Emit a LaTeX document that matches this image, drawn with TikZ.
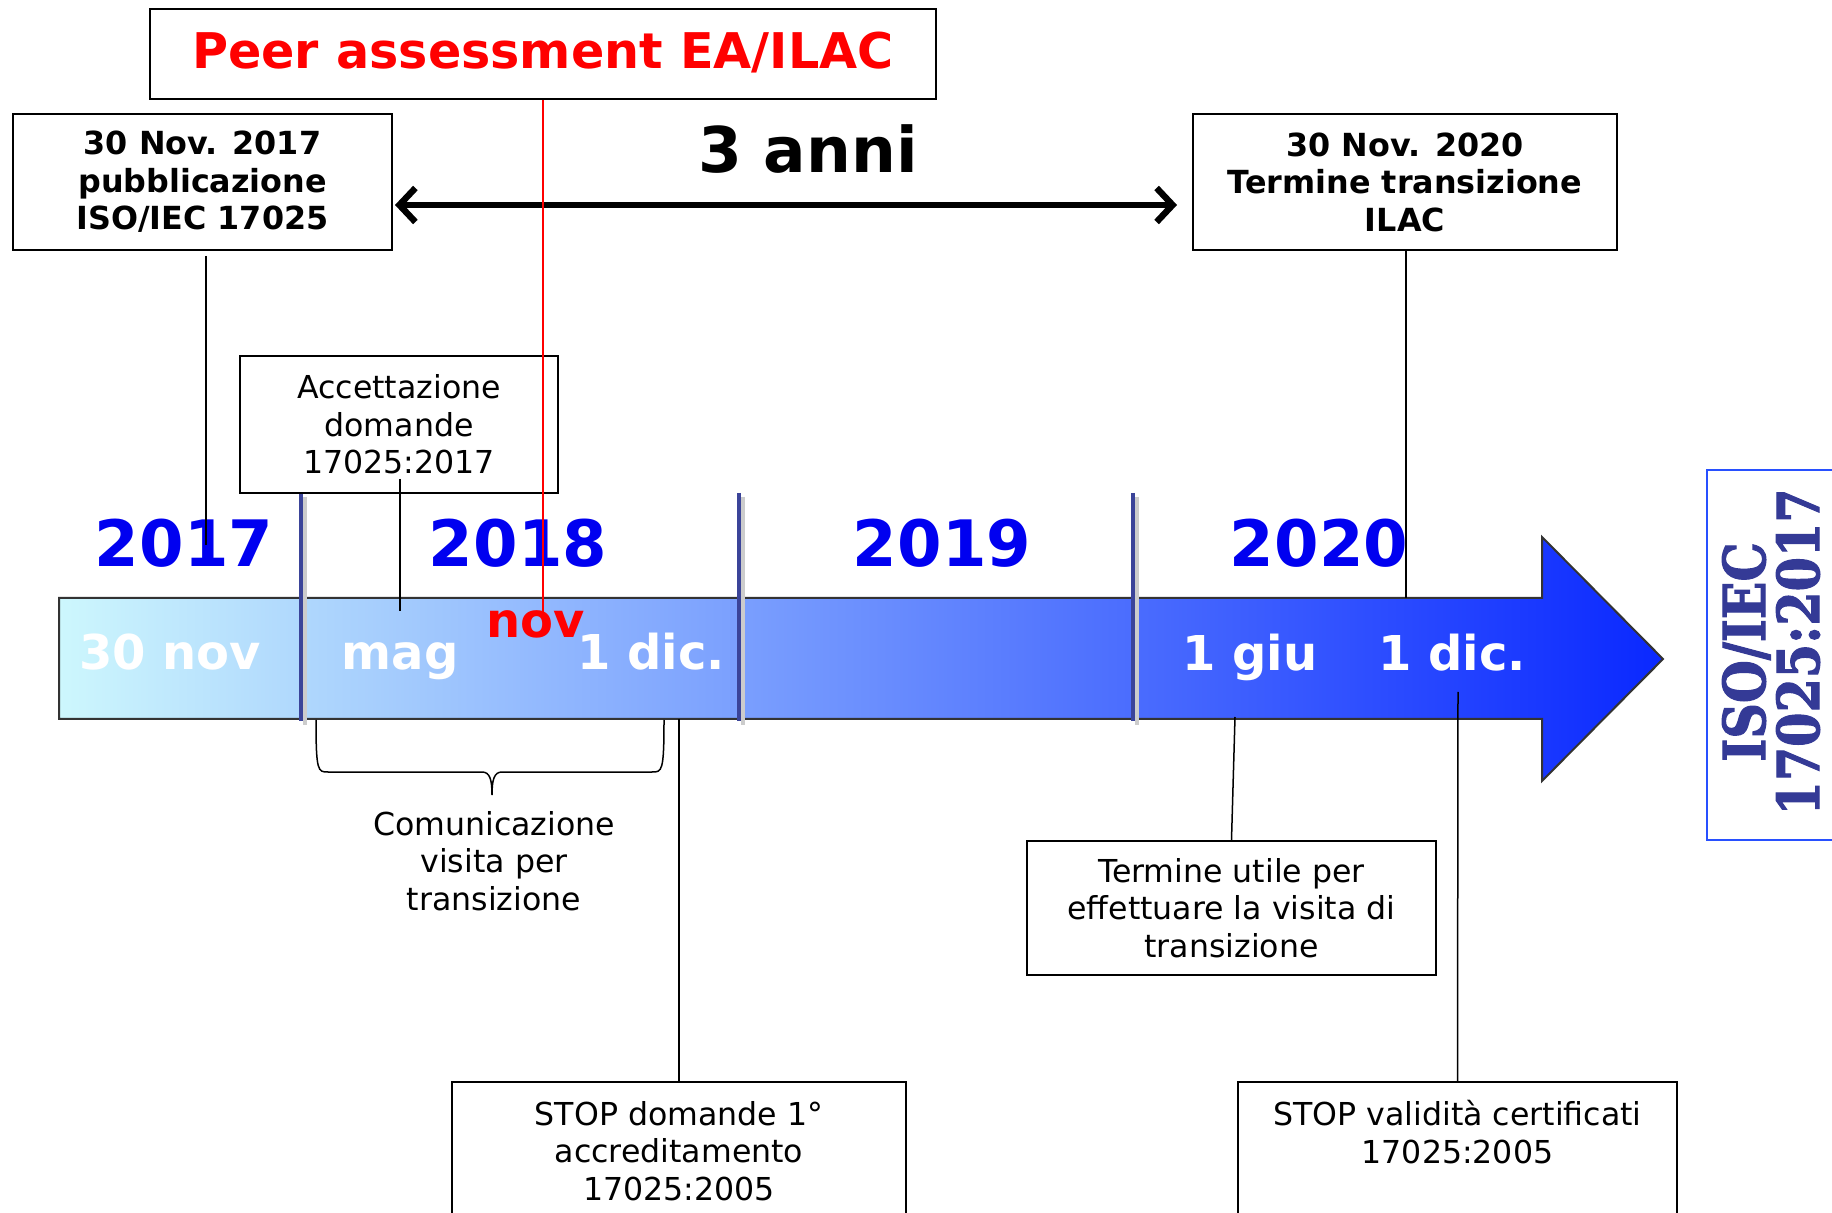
\documentclass[tikz,border=0pt]{standalone}
\usepackage{fontspec}
\setmainfont{DejaVu Sans}
\newfontfamily\isofont{DejaVu Serif}[BoldFeatures={FakeBold=2}]
\usetikzlibrary{arrows.meta}
\definecolor{yearblue}{RGB}{0,0,240}
\definecolor{sepblue}{RGB}{59,68,153}
\definecolor{barA}{RGB}{205,247,253}
\definecolor{barB}{RGB}{140,170,255}
\definecolor{barC}{RGB}{10,40,255}
\definecolor{isoblue}{RGB}{52,58,150}
\definecolor{isoframe}{RGB}{40,80,255}
\definecolor{peerred}{RGB}{255,0,0}
\tikzset{
  box/.style={draw=black, line width=1pt, inner sep=0pt, align=center, fill=white},
  bt/.style={font=\bfseries\fontsize{15.9}{18.75}\selectfont},
  rt/.style={font=\fontsize{15.8}{18.75}\selectfont},
  conn/.style={draw=black, line width=0.75pt},
  sepline/.style={draw=sepblue, line width=2pt},
  sepshadow/.style={draw=black!20, line width=2pt},
  year/.style={font=\bfseries\fontsize{32}{38}\selectfont, text=yearblue, anchor=base, inner sep=0pt},
  barlbl/.style={font=\bfseries\fontsize{24}{28}\selectfont, text=white, anchor=base, inner sep=0pt}
}
\begin{document}
\begin{tikzpicture}[x=0.5pt,y=-0.5pt]
\useasboundingbox (0,0) rectangle (1832,1213);
\clip (0,0) rectangle (1832,1213);
\fill[white] (0,0) rectangle (1832,1213);

% timeline arrow
\path[draw=black!80, line width=1pt, left color=barA, middle color=barB, right color=barC]
  (59,598) -- (1542,598) -- (1542,537) -- (1663,659) -- (1542,781) -- (1542,719) -- (59,719) -- cycle;

% year separators
\foreach \sx in {301,739,1133}{
  \draw[sepshadow] (\sx+4,497) -- (\sx+4,725);
  \draw[sepline] (\sx,493) -- (\sx,721);
}

% years
\node[year] (y2017) at (184,567) {2017};
\node[year] (y2018) at (518,567) {2018};
\node[year] (y2019) at (942,567) {2019};
\node[year] (y2020) at (1319,567) {2020};

% labels on the bar
\node[barlbl] (l30nov) at (170,670) {30 nov};
\node[barlbl] (lmag) at (400,670) {mag};
\node[barlbl, text=peerred] (lnov) at (536,638) {nov};
\node[barlbl] (ldicA) at (651,670) {1 dic.};
\node[barlbl] (lgiu) at (1250,671) {1 giu};
\node[barlbl] (ldicB) at (1452,671) {1 dic.};

% boxes
\node[box, font=\bfseries\fontsize{24.6}{28}\selectfont, text=peerred, minimum width=393pt, minimum height=45pt] (peer) at (543,54) {\raisebox{3.5pt}{Peer assessment EA/ILAC}};
\node[box, bt, minimum width=189.5pt, minimum height=68pt] (pub) at (202.5,182) {30 Nov. 2017\\pubblicazione\\ISO/IEC 17025};
\node[box, bt, minimum width=212pt, minimum height=68pt] (ilac) at (1405,182) {30 Nov. 2020\\Termine transizione\\ILAC};
\node[box, rt, minimum width=159pt, minimum height=68.5pt] (acc) at (399,424.5) {Accettazione\\domande\\17025:2017};
\node[box, rt, minimum width=204.5pt, minimum height=67pt] (term) at (1231.5,908) {Termine utile per\\effettuare la visita di\\transizione};
\node[box, minimum width=227pt, minimum height=68pt] (stopA) at (679,1150) {};
\node[rt, anchor=north, inner sep=0pt, align=center] (stopAt) at (679,1101) {STOP domande 1°\\accreditamento\\17025:2005};
\node[box, minimum width=219.5pt, minimum height=68pt] (stopB) at (1457.5,1150) {};
\node[rt, anchor=north, inner sep=0pt, align=center] (stopBt) at (1457.5,1100) {STOP validità certificati\\17025:2005};

% 3 anni
\node[font=\bfseries\fontsize{31.5}{36}\selectfont, anchor=base, inner sep=0pt] (anni) at (808,173) {3 anni};
\draw[line width=3.2pt, {Straight Barb[length=8pt,width=17pt]}-{Straight Barb[length=8pt,width=17pt]}]
  ([xshift=1pt,yshift=-11.5pt]pub.east) -- ([xshift=-7.5pt,yshift=-11.5pt]ilac.west);

% connectors
\coordinate (pubEnd) at (206,545);
\draw[conn] (pubEnd |- pub.south) ++(0,5) -- (pubEnd);
\coordinate (ilacEnd) at (1406,598);
\draw[conn] (ilacEnd |- ilac.south) -- (ilacEnd);
\coordinate (magEnd) at (400,611);
\draw[conn] (magEnd |- acc.south) ++(0,-15) -- (magEnd);
\coordinate (novEnd) at (543,613);
\draw[draw=peerred, line width=0.75pt] (peer.south) -- (novEnd);
\coordinate (dicA) at (679,719);
\draw[conn] (dicA) -- (stopA.north);
\coordinate (giu) at (1235,717);
\draw[conn] (giu) -- (term.north);
\coordinate (dicB) at (1458,692);
\draw[conn] (dicB) -- (stopB.north);

% brace
\draw[line width=0.75pt] (316,720) .. controls (316,772) and (318,772) .. (328,772) -- (482,772)
  .. controls (490,772) and (492,780) .. (492,795)
  .. controls (492,780) and (494,772) .. (502,772) -- (652,772)
  .. controls (662,772) and (664,772) .. (664,720);
\node[rt, anchor=north, inner sep=0pt, align=center] (comm) at (494,811) {Comunicazione\\visita per\\transizione};

% ISO/IEC badge
\node[draw=isoframe, line width=1pt, minimum width=69pt, minimum height=185pt, inner sep=0pt] (isobox) at (1776,655) {};
\node[rotate=90, text=isoblue, font=\isofont\bfseries\fontsize{29}{27}\selectfont, align=center, inner sep=0pt] (iso) at (1771,652)
  {\scalebox{0.85}[1]{ISO/IEC}\\\scalebox{0.85}[1]{17025:2017}};
\end{tikzpicture}
\end{document}
